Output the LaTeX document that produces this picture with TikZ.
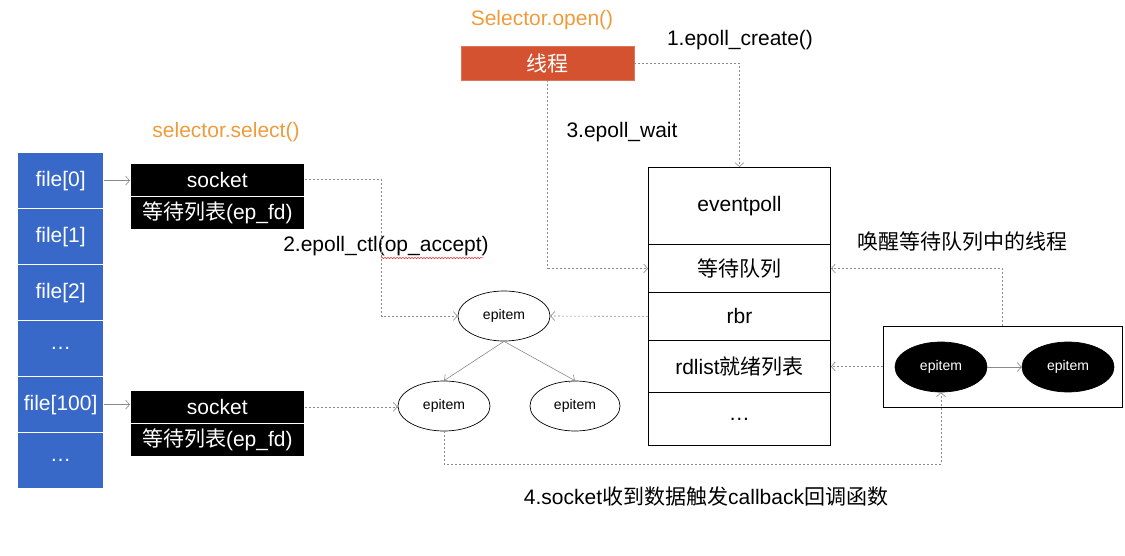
\documentclass[tikz,border=0pt]{standalone}
\usepackage{fontspec}
\setmainfont{Liberation Sans}
\newfontfamily\cjk{Noto Sans CJK SC}
\usetikzlibrary{arrows.meta,shapes.geometric,decorations.pathmorphing}
\definecolor{fileblue}{HTML}{3868C8}
\definecolor{threadred}{HTML}{D45230}
\definecolor{callorange}{HTML}{EF9B3A}
\definecolor{linkgray}{HTML}{8A8A8A}
\newcommand\bigtext{\fontsize{21}{24}\selectfont}
\newcommand\smalltext{\fontsize{14}{16}\selectfont}
\tikzset{
	filecell/.style={draw=white, line width=1.2pt, fill=fileblue, text=white,
		minimum width=86pt, minimum height=56pt, inner sep=0pt, anchor=north west, font=\bigtext},
	sockcell/.style={draw=white, line width=0.6pt, fill=black, text=white,
		minimum width=174pt, minimum height=33pt, inner sep=0pt, anchor=north west, font=\bigtext},
	pollcell/.style={draw=black, line width=0.9pt, fill=white,
		minimum width=182pt, inner sep=0pt, anchor=north west, font=\bigtext},
	epnode/.style={ellipse, draw=black, line width=0.7pt, fill=white,
		minimum width=92pt, minimum height=50pt, inner sep=0pt, font=\smalltext},
	epfull/.style={epnode, fill=black, text=white},
	waitlink/.style={draw=linkgray, line width=0.6pt, dash pattern=on 2pt off 2pt,
		-{Straight Barb[length=4pt,width=9pt]}},
	treelink/.style={draw=linkgray, line width=0.6pt,
		-{Straight Barb[length=4pt,width=9pt]}},
	note/.style={font=\bigtext, inner sep=0pt},
	callnote/.style={note, text=callorange},
}
\begin{document}
\begin{tikzpicture}[x=1pt,y=-1pt]
	\useasboundingbox (0,0) rectangle (1125,556);
	
	% file table
	\foreach \lbl/\nm [count=\k from 0] in {file[0]/f0, file[1]/f1, file[2]/f2, \dots/f3, file[100]/f4, \dots/f5}{
		\node[filecell] (\nm) at (17,152+56*\k) {\lbl};
	}
	
	% sockets
	\node[callnote] (selselect) at (226,132) {selector.select()};
	\node[sockcell] (sock0) at (130,163) {socket};
	\node[sockcell] (sock0wait) at (130,196) {{\cjk 等待列表}(ep\_fd)};
	\node[sockcell] (sock1) at (130,390) {socket};
	\node[sockcell] (sock1wait) at (130,423) {{\cjk 等待列表}(ep\_fd)};
	\draw[treelink] (f0.east) -- (f0.east -| sock0.west);
	\draw[treelink] (f4.east) -- (f4.east -| sock1.west);
	
	% thread
	\node[callnote] (selopen) at (542,20) {Selector.open()};
	\node[draw=threadred!80!white, fill=threadred, text=white, minimum width=173pt, minimum height=34pt,
		inner sep=0pt, anchor=north west, font=\bigtext] (thread) at (461,46) {\cjk 线程};
	
	% eventpoll
	\node[pollcell, minimum height=77pt] (pollev) at (648,167) {eventpoll};
	\node[pollcell, minimum height=48pt] (pollwait) at (648,244) {\cjk 等待队列};
	\node[pollcell, minimum height=48pt] (pollrbr) at (648,292) {rbr};
	\node[pollcell, minimum height=52pt] (pollrd) at (648,340) {rdlist{\cjk 就绪列表}};
	\node[pollcell, minimum height=53pt] (polldots) at (648,392) {\dots};
	
	% red-black tree
	\node[epnode] (eproot) at (504,316) {epitem};
	\node[epnode] (epleft) at (444,406) {epitem};
	\node[epnode, minimum width=90pt] (epright) at (575,406) {epitem};
	\draw[treelink] (eproot.south) -- (epleft.north);
	\draw[treelink] (eproot.south) -- (epright.north);
	
	% ready list
	\node[draw=black, line width=0.8pt, minimum width=239pt, minimum height=81pt, inner sep=0pt]
		(readybox) at (1002.5,366.5) {};
	\node[epfull] (epfull1) at (941,367) {epitem};
	\node[epfull] (epfull2) at (1068,367) {epitem};
	\draw[treelink] (epfull1) -- (epfull2);
	
	% calls
	\node[note] (stepcreate) at (740,40) {1.epoll\_create()};
	\node[note] (stepctl) at (386,246) {2.epoll\_ctl(op\_accept)};
	\node[note] (stepwait) at (622,132) {3.epoll\_wait};
	\node[note] (stepcb) at (706,497) {4.socket{\cjk 收到数据触发}callback{\cjk 回调函数}};
	\node[note] (wakeup) at (962,242) {\cjk 唤醒等待队列中的线程};
	\draw[red!80, line width=0.5pt, decorate, decoration={snake, amplitude=0.8pt, segment length=3pt}]
		(381,258) -- (483,258);
	
	\draw[waitlink] (thread.east) -| (pollev.north);
	\draw[waitlink] (thread.south) |- (pollwait.west);
	\draw[waitlink] (sock0.east) -- ++(77,0) |- (eproot.west);
	\draw[waitlink] (pollrbr.west) -- (eproot.east);
	\draw[waitlink] (sock1.east) -- (sock1.east -| epleft.west);
	\draw[waitlink] (epleft.south) -- ++(0,33) -| (epfull1.south);
	\draw[waitlink] (readybox.west) -- (readybox.west -| pollrd.east);
	\draw[waitlink] (readybox.north) |- (pollwait.east);
\end{tikzpicture}
\end{document}
